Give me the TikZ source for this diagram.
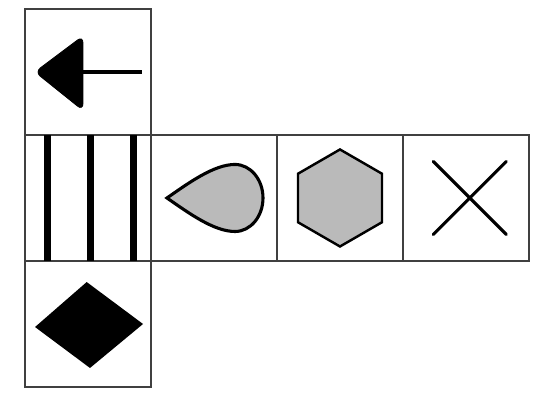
\documentclass[tikz,border=0pt]{standalone}
\usetikzlibrary{shapes,backgrounds}

\begin{document}
\begin{tikzpicture}[scale=2]
\tikzset{cell/.style={draw=black!75, line width=0.9pt}, grey/.style={fill=black!27, draw=black}}
\useasboundingbox (-0.198,-2.214) rectangle (4.103,1.071);
\foreach \x/\y in {0/0,0/-1,1/-1,2/-1,3/-1,0/-2} % the six faces of the net
\draw[cell] (\x,\y) rectangle ++(1,1);
% top face: arrow
\draw[fill=black, rounded corners=3pt] (0.08,0.5) -- (0.46,0.785) -- (0.46,0.195) -- cycle;
\draw[line width=1.4pt] (0.46,0.5) -- (0.93,0.5);
% stripes
\foreach \x in {0.18,0.52,0.86}
\draw[line width=3.2pt] (\x,-1) -- (\x,0);
% drop
\draw[grey, line width=1.4pt] (1.127,-0.5) .. controls (1.30,-0.38) and (1.50,-0.234) .. (1.667,-0.234)
  arc[start angle=90, end angle=-90, x radius=0.222, y radius=0.266]
  .. controls (1.50,-0.766) and (1.30,-0.62) .. cycle;
% hexagon
\draw[grey, line width=1.1pt] (2.5,-0.5) +(90:0.385) -- +(150:0.385) -- +(210:0.385) -- +(270:0.385) -- +(330:0.385) -- +(30:0.385) -- cycle;
% cross
\draw[line width=1.4pt, line cap=round] (3.24,-0.21) -- (3.82,-0.79) (3.24,-0.79) -- (3.82,-0.21);
% bottom face: diamond
\fill (0.49,-1.167) -- (0.08,-1.524) -- (0.516,-1.849) -- (0.937,-1.5) -- cycle;
\end{tikzpicture}
\end{document}
